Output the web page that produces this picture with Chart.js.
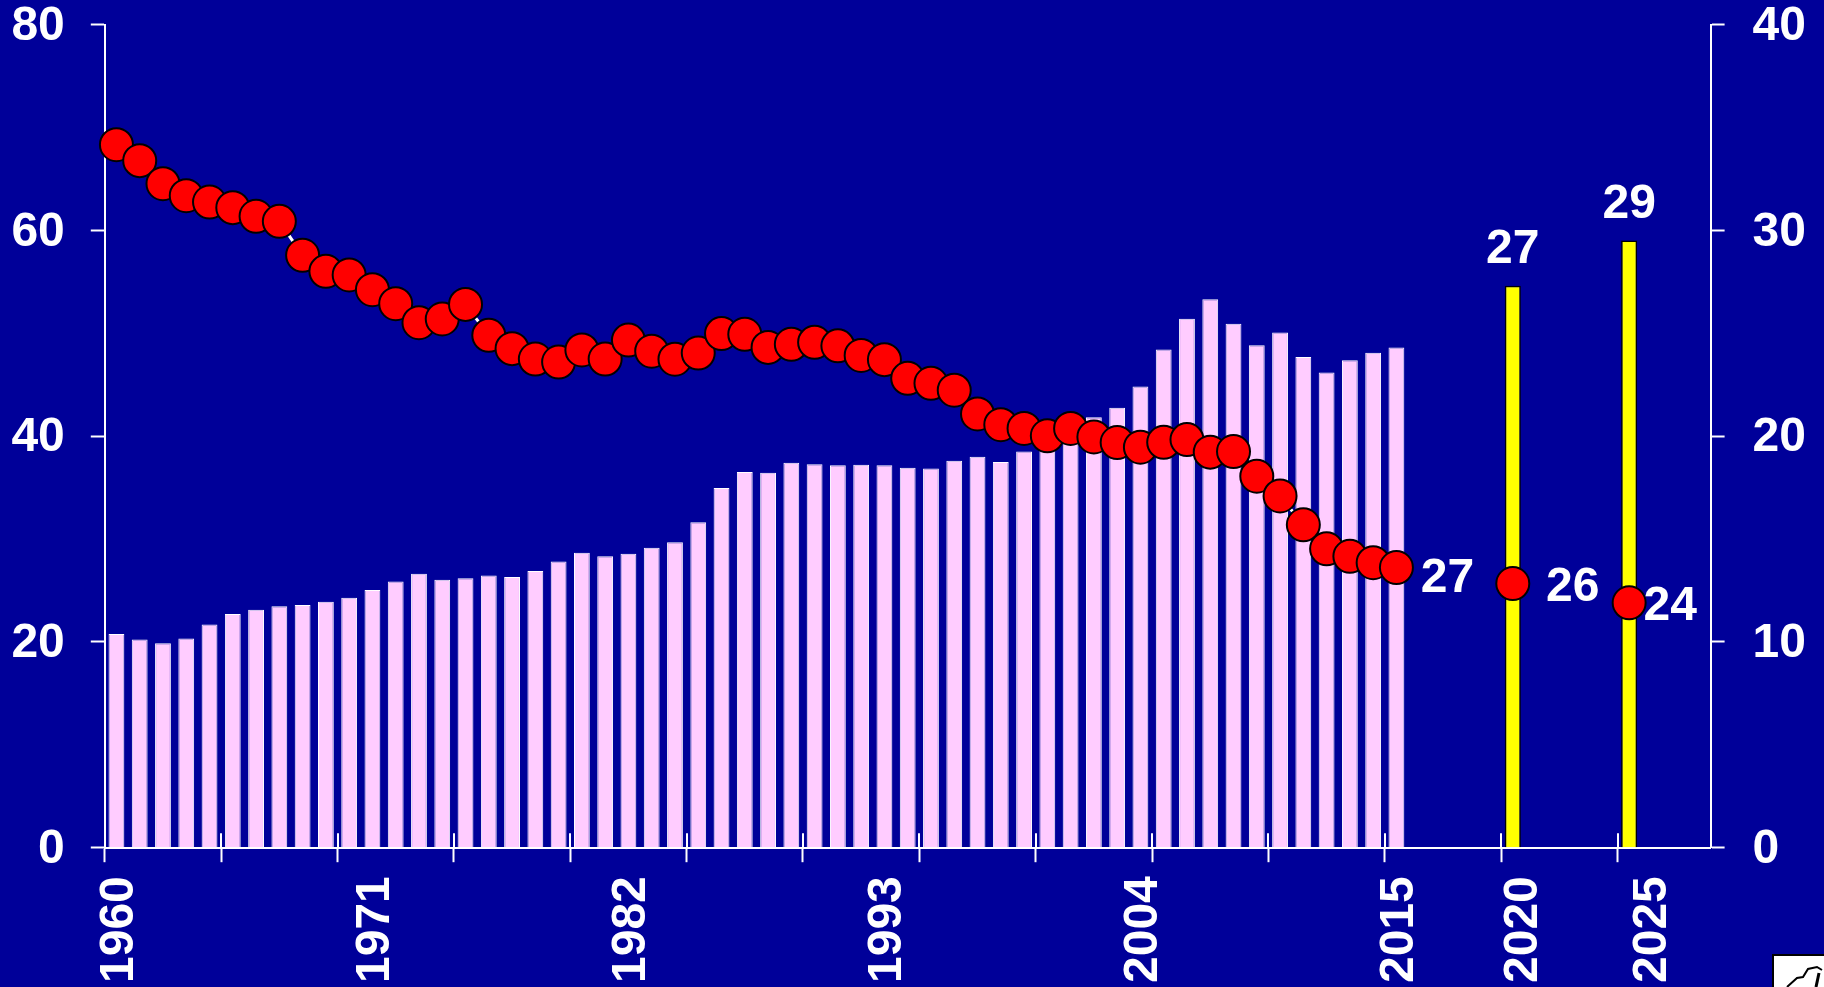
<!DOCTYPE html>
<html>
<head>
<meta charset="utf-8">
<style>
html,body{margin:0;padding:0;background:#000099;width:1824px;height:987px;overflow:hidden}
#c{position:absolute;left:0;top:0;display:block}
#corner{position:absolute;left:0;top:0}
</style>
<script src="https://cdn.jsdelivr.net/npm/chart.js@4"></script>
</head>
<body>
<canvas id="c" width="1824" height="987"></canvas>
<svg id="corner" width="1824" height="987" viewBox="0 0 1824 987">
  <rect x="1773" y="955" width="60" height="40" fill="#fff" stroke="#000" stroke-width="2"/>
  <path d="M1787 987L1797 978L1803 977L1808 969L1817 967L1822 970" fill="none" stroke="#000" stroke-width="2"/>
  <path d="M1819 973L1816 987" fill="none" stroke="#000" stroke-width="3"/>
</svg>
<script>
const firstYear = 1960;
const lastYear = 2028;
const years = [];
for (let y = firstYear; y <= lastYear; y++) years.push(String(y));
const shownYears = ['1960','1971','1982','1993','2004','2015','2020','2025'];

// right axis, 1960-2015
const pinkBars = [10.38,10.12,9.93,10.17,10.85,11.35,11.56,11.73,11.79,11.95,12.15,12.52,12.94,13.31,13.02,13.09,13.23,13.15,13.44,13.91,14.33,14.16,
  14.28,14.58,14.84,15.81,17.48,18.26,18.22,18.71,18.63,18.58,18.61,18.58,18.46,18.43,18.80,19.00,18.74,19.25,19.55,20.2,20.92,21.38,22.41,24.21,25.70,26.65,25.46,24.41,25.03,23.84,23.09,23.68,24.05,24.31];
// right axis, projections
const yellowYears = {'2020':27.3,'2025':29.5};
// left axis, 1960-2015
const redPoints = [68.32,66.77,64.53,63.36,62.75,62.2,61.36,60.87,57.57,56.01,55.66,54.23,52.87,51.02,51.38,52.8,49.79,48.5,47.49,47.2,48.37,47.49,
  49.33,48.25,47.47,48.07,49.96,49.89,48.62,48.92,49.11,48.77,47.84,47.43,45.61,45.13,44.46,42.15,41.11,40.74,40.03,40.74,39.92,39.37,38.92,39.4,39.66,38.44,38.5,36.1,34.18,31.38,29.05,28.32,27.7,27.23];
// left axis, projections
const redFuture = {'2020':25.67,'2025':23.8};
// value labels: text per series and year
const redLabels = {'2015':'27','2020':'26','2025':'24'};
const yellowLabels = {'2020':'27','2025':'29'};

const pad = arr => years.map((_, i) => i < arr.length ? arr[i] : null);
const pinkData = pad(pinkBars);
const yellowData = years.map(y => y in yellowYears ? yellowYears[y] : null);
const redData = years.map((y, i) => i < redPoints.length ? redPoints[i] : (y in redFuture ? redFuture[y] : null));

const fontBold = {family:"'Liberation Sans', Arial, sans-serif", size:48, weight:'bold'};
const white = '#ffffff';

const layoutFix = (prop, size) => scale => {
  scale[prop] = size;
  scale.paddingTop = 0; scale.paddingBottom = 0; scale.paddingLeft = 0; scale.paddingRight = 0;
};

const nudge = (scale, dx, dy, extra) => {
  const items = scale.getLabelItems();
  if (items._moved) return;
  items._moved = true;
  items.forEach(it => {
    it.options.translation[0] += dx + ((extra && extra[it.label]) || 0);
    it.options.translation[1] += dy;
  });
};

const decor = {
  id:'decor',
  beforeDraw(chart){
    nudge(chart.scales.x, 3.5, 0, {'2020':7,'2025':20});
    nudge(chart.scales.y, 0, 2);
    nudge(chart.scales.yR, 0, 2);
  },
  beforeDatasetsDraw(chart){
    const {ctx, scales:{x}, chartArea} = chart;
    ctx.save();
    ctx.strokeStyle = white; ctx.lineWidth = 2;
    for (let i = 5; i < years.length; i += 5) {
      const px = Math.round((x.getPixelForTick(i) + x.getPixelForTick(i-1)) / 2);
      ctx.beginPath(); ctx.moveTo(px, chartArea.bottom - 14.5); ctx.lineTo(px, chartArea.bottom); ctx.stroke();
    }
    ctx.restore();
  },
  afterDatasetsDraw(chart){
    const {ctx} = chart;
    const redMeta = chart.getDatasetMeta(0);
    const yellowMeta = chart.getDatasetMeta(1);
    ctx.save();
    ctx.font = "bold 48px 'Liberation Sans', Arial, sans-serif";
    ctx.fillStyle = white; ctx.textAlign = 'center'; ctx.textBaseline = 'middle';
    const redOffset = {'2015':[51,11],'2020':[60,4],'2025':[41,3.5]};
    Object.keys(redLabels).forEach(y => {
      const p = redMeta.data[years.indexOf(y)];
      ctx.fillText(redLabels[y], p.x + redOffset[y][0], p.y + redOffset[y][1]);
    });
    Object.keys(yellowLabels).forEach(y => {
      const p = yellowMeta.data[years.indexOf(y)];
      ctx.fillText(yellowLabels[y], p.x, p.y - 36);
    });
    ctx.restore();
  }
};

new Chart(document.getElementById('c'), {
  type:'bar',
  plugins:[decor],
  data:{
    labels:years,
    datasets:[
      {type:'line', label:'red', data:redData, yAxisID:'y', order:0, clip:false,
       borderColor:white, borderWidth:3, tension:0, spanGaps:false,
       pointRadius:16.5, pointBorderWidth:2, pointBackgroundColor:'#ff0000', pointBorderColor:'#000000', pointStyle:'circle'},
      {type:'bar', label:'yellow', data:yellowData, yAxisID:'yR', order:1,
       backgroundColor:'#ffff00', borderColor:'#000000', borderWidth:1.5, barPercentage:0.69, categoryPercentage:1, grouped:false},
      {type:'bar', label:'pink', data:pinkData, yAxisID:'yR', order:2,
       backgroundColor:'#ffccff', borderColor:'#ffffff', borderWidth:1, barPercentage:0.68, categoryPercentage:1, grouped:false}
    ]
  },
  options:{
    responsive:false, animation:false, devicePixelRatio:1,
    layout:{padding:{top:24.5,left:0,right:0,bottom:0}},
    plugins:{legend:{display:false}, title:{display:false}, tooltip:{enabled:false}},
    scales:{
      x:{
        type:'category', offset:true, position:'bottom',
        grid:{drawOnChartArea:false, offset:true, drawTicks:true, tickLength:14.5, tickWidth:2,
              tickColor:ctx => (ctx.index % 5 === 0 ? white : 'rgba(0,0,0,0)'), color:'rgba(0,0,0,0)'},
        border:{display:true,color:white,width:2},
        ticks:{autoSkip:false, maxRotation:90, minRotation:90, padding:14, color:white, font:fontBold,
               callback(v){ const l = this.getLabelForValue(v); return shownYears.includes(l) ? l : ''; }},
        afterFit:layoutFix('height', 139.3)
      },
      y:{
        position:'left', min:0, max:80,
        grid:{drawOnChartArea:false, tickLength:14, tickWidth:2, tickColor:white, color:white},
        border:{display:true,color:white,width:2},
        ticks:{stepSize:20, padding:26, color:white, font:fontBold},
        afterFit:layoutFix('width', 104.8)
      },
      yR:{
        position:'right', min:0, max:40,
        grid:{drawOnChartArea:false, tickLength:14, tickWidth:2, tickColor:white, color:white},
        border:{display:true,color:white,width:2},
        ticks:{stepSize:10, padding:28, color:white, font:fontBold},
        afterFit:layoutFix('width', 113.4)
      }
    }
  }
});
</script>
</body>
</html>
